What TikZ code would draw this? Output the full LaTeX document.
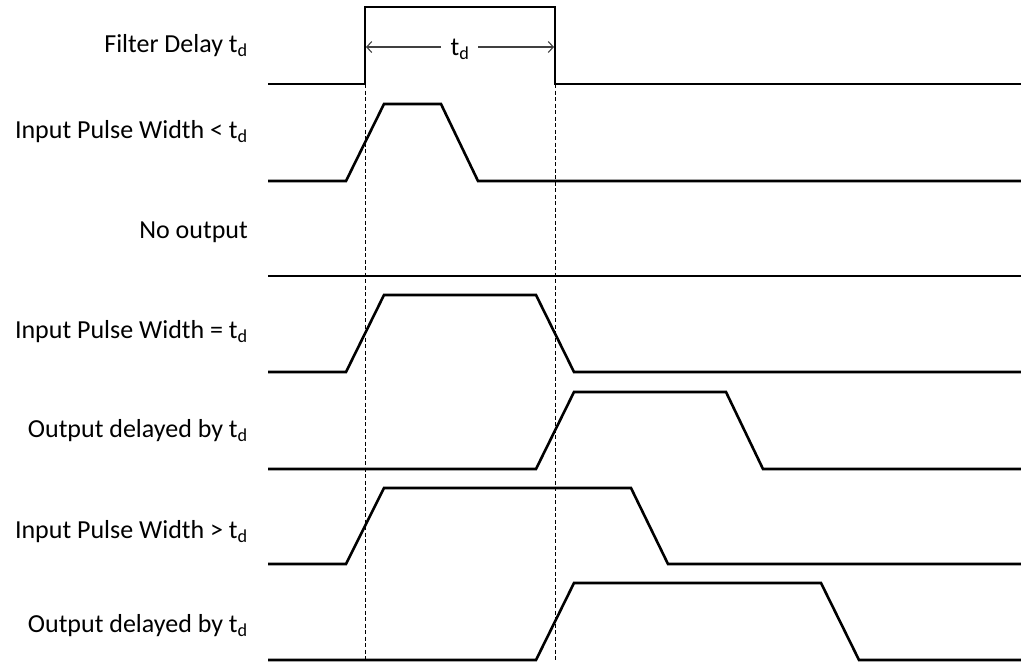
\documentclass[tikz,border=0pt]{standalone}
\usepackage{fontspec}
\setmainfont{Carlito}
\usetikzlibrary{arrows.meta}
\begin{document}
\begin{tikzpicture}[x=1pt,y=-1pt,
  sig/.style={line width=2.6pt,line join=miter,black},
  guide/.style={line width=1pt,dash pattern=on 4pt off 2.5pt,black},
  lbl/.style={anchor=base east,inner sep=0pt,font=\fontsize{26}{28}\selectfont},
  tip/.tip={Straight Barb[length=5pt,width=11pt,line width=1.1pt]},
  dim/.style={line width=1.1pt,draw=black!75}]
\useasboundingbox (0,0) rectangle (1021,665);
% labels
\node[lbl] (l1) at (248,52) {Filter Delay t\textsubscript{d}};
\node[lbl] (l2) at (248,138) {Input Pulse Width < t\textsubscript{d}};
\node[lbl] (l3) at (248,238) {No output};
\node[lbl] (l4) at (248,338) {Input Pulse Width = t\textsubscript{d}};
\node[lbl] (l5) at (248,437) {Output delayed by t\textsubscript{d}};
\node[lbl] (l6) at (248,538) {Input Pulse Width > t\textsubscript{d}};
\node[lbl] (l7) at (248,632) {Output delayed by t\textsubscript{d}};
% guides
\coordinate (ga) at (365,84);
\coordinate (gb) at (365,662);
\coordinate (gc) at (555,84);
\coordinate (gd) at (555,662);
\draw[guide] (ga) -- (gb);
\draw[guide] (gc) -- (gd);
% signals
\draw[sig] (268,84) -- (365,84) -- (365,7) -- (555,7) -- (555,84) -- (1021,84);
\draw[sig] (268,181) -- (346,181) -- (384,104) -- (441,104) -- (478,181) -- (1021,181);
\draw[sig] (268,276) -- (1021,276);
\draw[sig] (268,372) -- (346,372) -- (384,295) -- (536,295) -- (574,372) -- (1021,372);
\draw[sig] (268,469) -- (536,469) -- (574,392) -- (726,392) -- (763,469) -- (1021,469);
\draw[sig] (268,564) -- (346,564) -- (384,488) -- (631,488) -- (668,564) -- (1021,564);
\draw[sig] (268,660) -- (536,660) -- (574,583) -- (821,583) -- (859,660) -- (1021,660);
% dimension
\coordinate (da) at (366,47);
\coordinate (db) at (554,47);
\coordinate (dc) at (441,47);
\coordinate (dd) at (478,47);
\node[inner sep=0pt,anchor=base,font=\fontsize{26}{28}\selectfont] (tdl) at (460,55) {t\textsubscript{d}};
\draw[dim,-tip] (dc) -- (da);
\draw[dim,-tip] (dd) -- (db);
\end{tikzpicture}
\end{document}
